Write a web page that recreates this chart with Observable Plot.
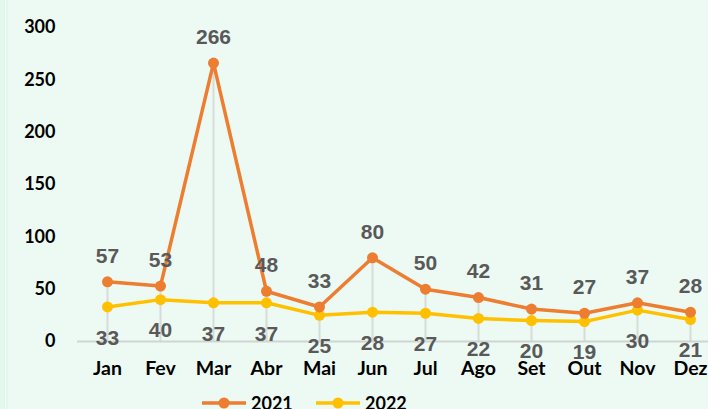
<!DOCTYPE html>
<html>
<head>
<meta charset="utf-8">
<script src="https://cdn.jsdelivr.net/npm/d3@7"></script>
<script src="https://cdn.jsdelivr.net/npm/@observablehq/plot@0.6"></script>
<style>
  html, body { margin: 0; padding: 0; background: #ecfaf3; overflow: hidden; }
  #wrap { position: relative; width: 708px; height: 409px; background: #ecfaf3; }
  #strip { position: absolute; left: 0; top: 0; width: 8px; height: 409px; background: #e2f8ec; }
  #strip2 { position: absolute; left: 5px; top: 0; width: 1px; height: 409px; background: #f6fffa; }
  #legend { position: absolute; left: 0; top: 393px; width: 708px; height: 20px; font-family: Lato, "Open Sans", sans-serif; font-weight: 700; font-size: 18px; color: #000; }
  .item { position: absolute; top: 0; display: flex; align-items: center; height: 20px; }
  .item svg { margin-right: 5px; }
</style>
</head>
<body>
<div id="wrap">
  <div id="chart"></div>
  <div id="strip"></div><div id="strip2"></div>
  <div id="legend"></div>
</div>
<script>
const months = ["Jan","Fev","Mar","Abr","Mai","Jun","Jul","Ago","Set","Out","Nov","Dez"];
const v2021 = [57,53,266,48,33,80,50,42,31,27,37,28];
const v2022 = [33,40,37,37,25,28,27,22,20,19,30,21];
const yTicks = [0,50,100,150,200,250,300];
const series = ["2021","2022"];
const colors = ["#ED7D31","#FFC000"];

const d21 = months.map((m,i) => ({month: m, value: v2021[i]}));
const d22 = months.map((m,i) => ({month: m, value: v2022[i]}));
const drops = months.map((m,i) => ({month: m, top: Math.max(v2021[i], v2022[i])}));

const chart = Plot.plot({
  width: 708,
  height: 390,
  marginLeft: 77,
  marginRight: 0,
  marginTop: 27,
  marginBottom: 49,
  style: {background: "transparent", overflow: "visible"},
  x: {type: "point", domain: months, range: [77, 720], padding: 0.5, label: null},
  y: {domain: [0, 300], label: null},
  marks: [
    Plot.ruleX(drops, {x: "month", y1: 0, y2: "top", stroke: "#d6ddd9", strokeWidth: 2}),
    Plot.ruleY([0], {stroke: "#d0d4d2", strokeWidth: 2}),
    Plot.axisY({ticks: yTicks, tickSize: 0, tickPadding: 22, fontSize: 18, fontWeight: 700, fill: "#000", fontFamily: "Lato, 'Open Sans', sans-serif", label: null}),
    Plot.axisX({tickSize: 0, tickPadding: 20, fontSize: 19.5, fontWeight: 700, fill: "#000", fontFamily: "Lato, 'Open Sans', sans-serif", label: null}),
    Plot.line(d22, {x: "month", y: "value", stroke: colors[1], strokeWidth: 3.5}),
    Plot.dot(d22, {x: "month", y: "value", fill: colors[1], r: 5.5}),
    Plot.line(d21, {x: "month", y: "value", stroke: colors[0], strokeWidth: 3.5}),
    Plot.dot(d21, {x: "month", y: "value", fill: colors[0], r: 5.5}),
    Plot.text(d21, {x: "month", y: "value", text: d => String(d.value), dy: -26, fill: "#595959", fontSize: 21, fontWeight: 700, fontFamily: "'Liberation Sans', Arial, sans-serif"}),
    Plot.text(d22, {x: "month", y: "value", text: d => String(d.value), dy: 31, fill: "#595959", fontSize: 21, fontWeight: 700, fontFamily: "'Liberation Sans', Arial, sans-serif"})
  ]
});
document.getElementById("chart").appendChild(chart);

const legend = document.getElementById("legend");
const lefts = [202, 316];
series.forEach((s, i) => {
  const it = document.createElement("div");
  it.className = "item";
  it.style.left = lefts[i] + "px";
  it.innerHTML = `<svg width="44" height="14"><line x1="0" y1="7" x2="44" y2="7" stroke="${colors[i]}" stroke-width="3.5"/><circle cx="22" cy="7" r="5.5" fill="${colors[i]}"/></svg><span>${s}</span>`;
  legend.appendChild(it);
});
</script>
</body>
</html>
